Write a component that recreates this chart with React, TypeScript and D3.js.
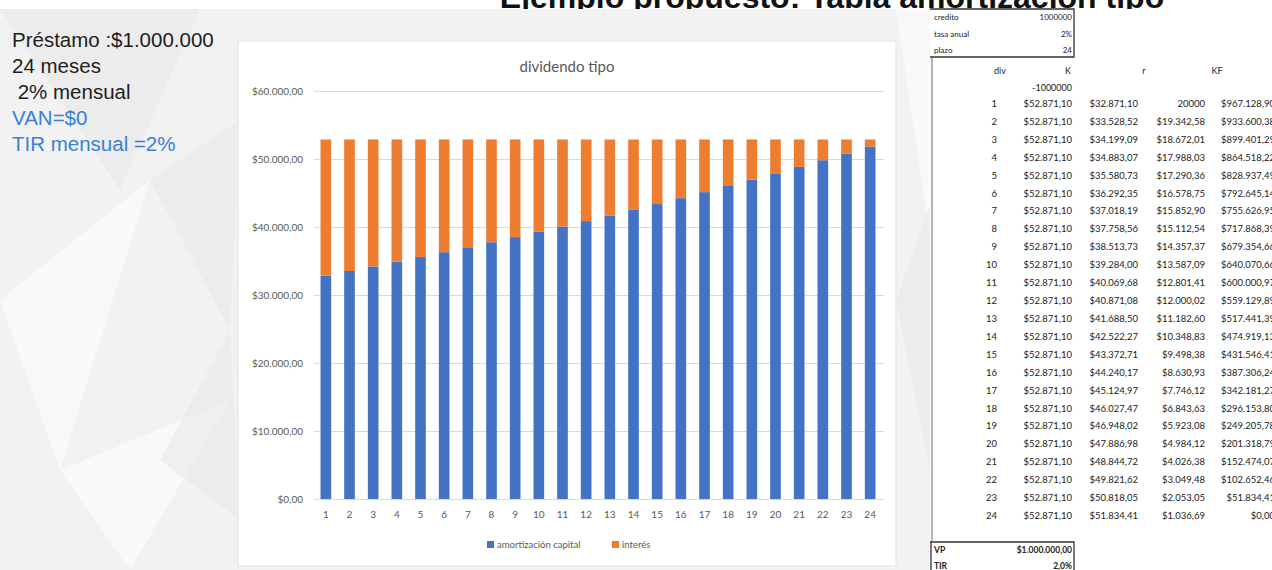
import { useEffect, useRef } from "react";
import * as d3 from "d3";

const months = d3.range(1, 25);
const cuota = 52871.1;
const amortizacion = [
  32871.1, 33528.52, 34199.09, 34883.07, 35580.73, 36292.35, 37018.19, 37758.56,
  38513.73, 39284.0, 40069.68, 40871.08, 41688.5, 42522.27, 43372.71, 44240.17,
  45124.97, 46027.47, 46948.02, 47886.98, 48844.72, 49821.62, 50818.05, 51834.41,
];
const interes = [
  20000, 19342.58, 18672.01, 17988.03, 17290.36, 16578.75, 15852.9, 15112.54,
  14357.37, 13587.09, 12801.41, 12000.02, 11182.6, 10348.83, 9498.38, 8630.93,
  7746.12, 6843.63, 5923.08, 4984.12, 4026.38, 3049.48, 2053.05, 1036.69,
];
const saldo = [
  967128.9, 933600.38, 899401.29, 864518.22, 828937.49, 792645.14, 755626.95, 717868.39,
  679354.66, 640070.66, 600000.97, 559129.89, 517441.39, 474919.13, 431546.41, 387306.24,
  342181.27, 296153.8, 249205.78, 201318.79, 152474.07, 102652.46, 51834.41, 0,
];
const yTicks = [0, 10000, 20000, 30000, 40000, 50000, 60000];
const seriesNames = ["amortización capital", "interés"];
const params = [
  ["credito", "1000000"],
  ["tasa anual", "2%"],
  ["plazo", "24"],
];
const resumen = [
  ["VP", "$1.000.000,00"],
  ["TIR", "2,0%"],
];
const notas = [
  { t: "Préstamo :$1.000.000", c: "#1e1e1e" },
  { t: "24 meses", c: "#1e1e1e" },
  { t: " 2% mensual", c: "#1e1e1e" },
  { t: "VAN=$0", c: "#3a80d6" },
  { t: "TIR mensual =2%", c: "#3a80d6" },
];

const es = d3.formatLocale({ decimal: ",", thousands: ".", grouping: [3], currency: ["$", ""] });
const money = es.format("$,.2f");

const BLUE = "#4472c4";
const ORANGE = "#ed7d31";
const CHART_FONT = "Lato, 'Open Sans', sans-serif";

export default function App() {
  const ref = useRef<SVGSVGElement>(null);

  useEffect(() => {
    document.body.style.margin = "0";
    if (!ref.current) return;
    const svg = d3.select(ref.current);
    svg.selectAll("*").remove();

    svg.append("rect").attr("width", 1272).attr("height", 570).attr("fill", "#ffffff");

    // page title, partly hidden behind the pasted screenshot below it
    svg
      .append("text")
      .attr("x", 832)
      .attr("y", 8)
      .attr("text-anchor", "middle")
      .attr("font-family", "'Liberation Sans', Arial, sans-serif")
      .attr("font-weight", "bold")
      .attr("font-size", 32)
      .attr("fill", "#111")
      .text("Ejemplo propuesto: Tabla amortización tipo");

    // background of the screenshot
    svg.append("rect").attr("y", 9).attr("width", 932).attr("height", 561).attr("fill", "#f2f2f2");
    const polys = [
      "0,9 200,9 120,190",
      "0,300 150,180 60,470",
      "150,180 240,120 230,330",
      "60,470 230,400 130,570",
      "230,330 160,460 240,520",
      "896,9 932,9 932,250",
      "896,300 932,200 932,480",
    ];
    svg
      .append("g")
      .selectAll("polygon")
      .data(polys)
      .join("polygon")
      .attr("points", (d) => d)
      .attr("fill", (d, i) => (i % 2 ? "#ffffff" : "#e6e6e6"))
      .attr("opacity", 0.5);
    svg.append("rect").attr("x", 930).attr("y", 9).attr("width", 342).attr("height", 561).attr("fill", "#ffffff");

    // left notes
    svg
      .append("g")
      .selectAll("text")
      .data(notas)
      .join("text")
      .attr("x", 12)
      .attr("y", (d, i) => 47 + i * 26)
      .attr("font-family", "'Liberation Sans', Arial, sans-serif")
      .attr("font-size", 20.5)
      .attr("fill", (d) => d.c)
      .attr("xml:space", "preserve")
      .style("white-space", "pre")
      .text((d) => d.t);

    // chart panel
    svg
      .append("rect")
      .attr("x", 238)
      .attr("y", 41)
      .attr("width", 658)
      .attr("height", 525)
      .attr("fill", "#ffffff")
      .attr("stroke", "#e2e2e2");

    svg
      .append("text")
      .attr("x", 567)
      .attr("y", 72)
      .attr("text-anchor", "middle")
      .attr("font-family", CHART_FONT)
      .attr("font-size", 15)
      .attr("fill", "#595959")
      .text("dividendo tipo");

    const x = d3.scaleBand<number>().domain(months).range([314, 882]).paddingInner(0.55).paddingOuter(0.275);
    const y = d3.scaleLinear().domain([0, 60000]).range([499, 91]);

    const yAxis = svg
      .append("g")
      .attr("transform", "translate(314,0)")
      .call(
        d3
          .axisLeft(y)
          .tickValues(yTicks)
          .tickSize(-570)
          .tickPadding(11)
          .tickFormat((d) => money(d as number))
      );
    yAxis.select(".domain").remove();
    yAxis.selectAll(".tick line").attr("stroke", "#d9d9d9");
    yAxis
      .selectAll(".tick text")
      .attr("fill", "#595959")
      .attr("font-family", CHART_FONT)
      .attr("font-size", 10);

    const rows = months.map((m, i) => ({ m, k: amortizacion[i], r: interes[i], kf: saldo[i] }));

    const bars = svg.append("g");
    bars
      .selectAll("rect.k")
      .data(rows)
      .join("rect")
      .attr("class", "k")
      .attr("x", (d) => x(d.m)!)
      .attr("width", x.bandwidth())
      .attr("y", (d) => y(d.k))
      .attr("height", (d) => y(0) - y(d.k))
      .attr("fill", BLUE);
    bars
      .selectAll("rect.r")
      .data(rows)
      .join("rect")
      .attr("class", "r")
      .attr("x", (d) => x(d.m)!)
      .attr("width", x.bandwidth())
      .attr("y", (d) => y(d.k + d.r))
      .attr("height", (d) => y(d.k) - y(d.k + d.r))
      .attr("fill", ORANGE);

    const xAxis = svg
      .append("g")
      .attr("transform", "translate(0,499)")
      .call(d3.axisBottom(x).tickSize(0).tickPadding(12));
    xAxis.select(".domain").attr("stroke", "#d9d9d9");
    xAxis
      .selectAll(".tick text")
      .attr("fill", "#595959")
      .attr("font-family", CHART_FONT)
      .attr("font-size", 10);

    // legend
    const legend = svg.append("g").attr("font-family", CHART_FONT).attr("font-size", 9.5).attr("fill", "#595959");
    const legendX = [487, 612];
    seriesNames.forEach((name, i) => {
      legend
        .append("rect")
        .attr("x", legendX[i])
        .attr("y", 541)
        .attr("width", 7)
        .attr("height", 7)
        .attr("fill", i === 0 ? BLUE : ORANGE);
      legend
        .append("text")
        .attr("x", legendX[i] + 10)
        .attr("y", 548)
        .text(name);
    });

    // spreadsheet
    const sheet = svg.append("g").attr("font-family", CHART_FONT).attr("fill", "#222");
    sheet
      .append("line")
      .attr("x1", 932)
      .attr("x2", 932)
      .attr("y1", 57)
      .attr("y2", 541)
      .attr("stroke", "#9a9a9a")
      .attr("stroke-width", 1.5);
    sheet
      .append("path")
      .attr("d", "M930,9 H1074 V57 H930")
      .attr("fill", "none")
      .attr("stroke", "#333")
      .attr("stroke-width", 1.3);
    params.forEach(([k, v], i) => {
      const yy = 20 + i * 16.5;
      sheet.append("text").attr("x", 934).attr("y", yy).attr("font-size", 8).text(k);
      sheet.append("text").attr("x", 1072).attr("y", yy).attr("font-size", 8).attr("text-anchor", "end").text(v);
    });

    const headers = [
      { t: "div", x: 1000 },
      { t: "K", x: 1068 },
      { t: "r", x: 1144 },
      { t: "KF", x: 1217 },
    ];
    headers.forEach((h) =>
      sheet.append("text").attr("x", h.x).attr("y", 74).attr("font-size", 9).attr("text-anchor", "middle").text(h.t)
    );
    sheet.append("text").attr("x", 1072).attr("y", 91).attr("font-size", 9).attr("text-anchor", "end").text("-1000000");

    const rowY = d3.scaleLinear().domain([1, 24]).range([107, 519]);
    const cols: { right: number; val: (d: (typeof rows)[number]) => string }[] = [
      { right: 997, val: (d) => String(d.m) },
      { right: 1072, val: () => money(cuota) },
      { right: 1138, val: (d) => money(d.k) },
      { right: 1205, val: (d) => (d.m === 1 ? String(d.r) : money(d.r)) },
      { right: 1275, val: (d) => money(d.kf) },
    ];
    cols.forEach((c) => {
      sheet
        .append("g")
        .selectAll("text")
        .data(rows)
        .join("text")
        .attr("x", c.right)
        .attr("y", (d) => rowY(d.m))
        .attr("font-size", 9.5)
        .attr("text-anchor", "end")
        .text(c.val);
    });

    sheet
      .append("path")
      .attr("d", "M930,542 H1074 V570")
      .attr("fill", "none")
      .attr("stroke", "#333")
      .attr("stroke-width", 1.3);
    sheet
      .append("line")
      .attr("x1", 931)
      .attr("x2", 931)
      .attr("y1", 542)
      .attr("y2", 570)
      .attr("stroke", "#333")
      .attr("stroke-width", 1.3);
    resumen.forEach(([k, v], i) => {
      const yy = 553 + i * 16;
      sheet.append("text").attr("x", 934).attr("y", yy).attr("font-size", 8.5).attr("font-weight", "bold").text(k);
      sheet
        .append("text")
        .attr("x", 1072)
        .attr("y", yy)
        .attr("font-size", 8.5)
        .attr("font-weight", "bold")
        .attr("text-anchor", "end")
        .text(v);
    });
  }, []);

  return <svg ref={ref} width={1272} height={570} style={{ display: "block" }} />;
}
